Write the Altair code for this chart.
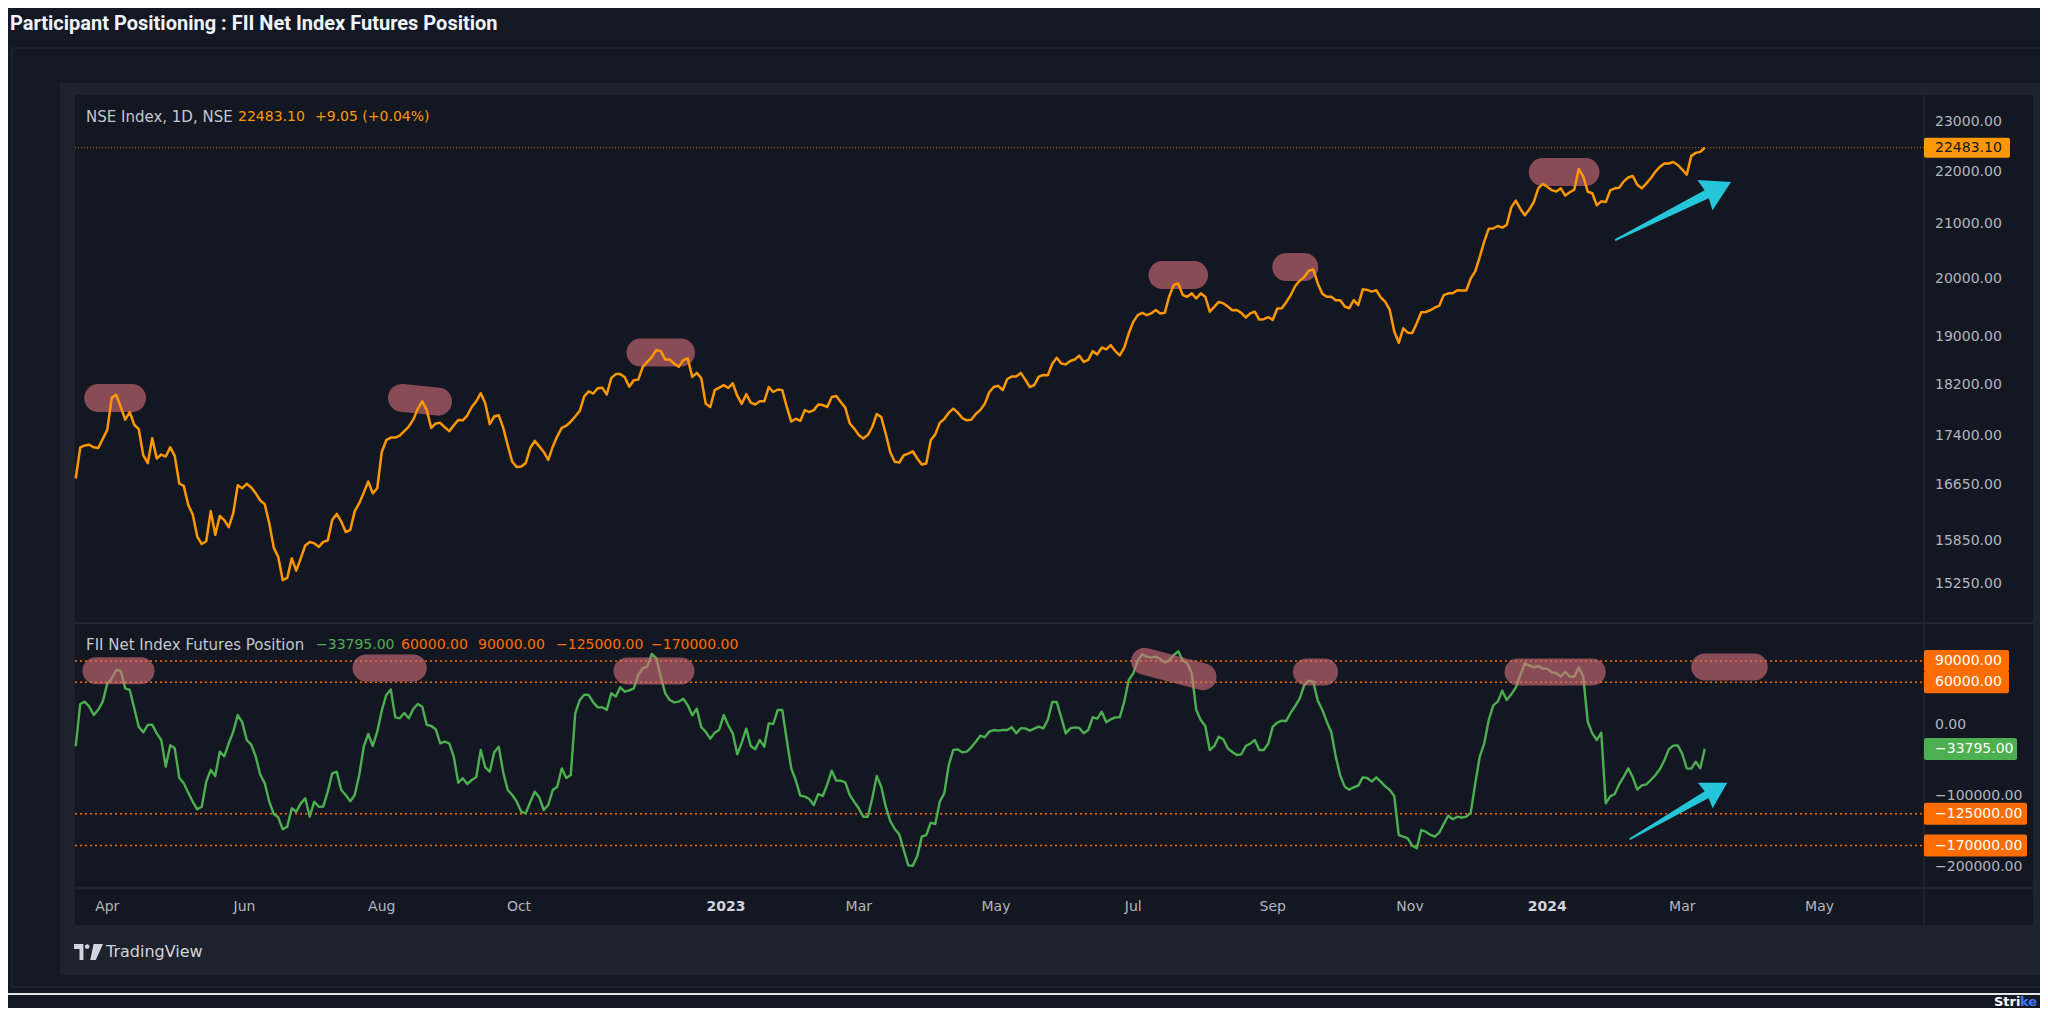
import altair as alt
import pandas as pd

# ------------------------------------------------------------------ data
# readings every 4 days from start_date, plus readings taken halfway between them
start_date = "2022-03-18"
step = "4D"

nse_close = [
    16750, 17250, 17220, 17350, 18000, 17850, 17770, 17500, 16980, 17050,
    17080, 17090, 16640, 16220, 15800, 16270, 16200, 16040, 16650, 16670,
    16530, 16370, 15750, 15300, 15600, 15600, 15830, 15760, 15850, 16230,
    15970, 16270, 16540, 16530, 17150, 17370, 17400, 17540, 17820, 17800,
    17590, 17530, 17560, 17640, 17850, 18070, 17580, 17720, 17250, 16920,
    16980, 17320, 17150, 17230, 17520, 17620, 17790, 18100, 18150, 18050,
    18380, 18330, 18280, 18500, 18660, 18760, 18620, 18500, 18640, 18400,
    17900, 18120, 18200, 18230, 17900, 17920, 17940, 18170, 18130, 17850,
    17665, 17800, 17800, 17880, 18010, 17930, 17590, 17410, 17410, 17740,
    17430, 17000, 17100, 17160, 16960, 17330, 17600, 17760, 17760, 17640,
    17740, 17900, 18170, 18120, 18340, 18400, 18170, 18340, 18360, 18650,
    18540, 18620, 18580, 18760, 18820, 18860, 18690, 19060, 19370, 19370,
    19460, 19410, 19900, 19720, 19750, 19750, 19430, 19600, 19520, 19460,
    19330, 19430, 19300, 19290, 19490, 19720, 19975, 20150, 19925, 19690,
    19630, 19520, 19630, 19820, 19780, 19680, 19460, 18900, 19070, 19230,
    19425, 19500, 19720, 19750, 19800, 20015, 20400, 20920, 20970, 20990,
    21450, 21170, 21420, 21770, 21650, 21685, 21610, 22060, 21620, 21360,
    21420, 21685, 21820, 21925, 21685, 21880, 22100, 22170, 22140, 21950,
    22380, 22483.10,
]
nse_close_mid = [
    17220, 17260, 17210, 17490, 18045, 17650, 17570, 17100, 17360, 17110,
    17220, 16675, 16360, 15905, 15840, 15930, 16140, 16240, 16605, 16615,
    16425, 16095, 15620, 15330, 15430, 15780, 15810, 15830, 16145, 16120,
    16000, 16385, 16705, 16605, 17330, 17370, 17470, 17650, 17940, 17520,
    17600, 17470, 17645, 17715, 17940, 17910, 17700, 17520, 17000, 16930,
    17210, 17235, 17030, 17390, 17555, 17700, 18020, 18065, 18160, 18315,
    18380, 18175, 18290, 18580, 18780, 18620,
    18550, 18610, 18335, 18315, 17850, 18160, 18155, 18030, 18055, 17890,
    17940, 18090, 18120, 17620, 17630, 17770, 17890, 17850, 18025, 17840,
    17510, 17355, 17535, 17690, 17145, 16990, 17125, 17050, 16975, 17420,
    17660, 17825, 17675, 17650, 17800, 18085, 18190, 18300, 18340, 18290,
    18200, 18365, 18550, 18555, 18595, 18685, 18615, 18705, 18790, 18760,
    18820, 19255, 19410, 19400, 19400, 19700, 19925, 19690, 19660, 19690,
    19515, 19575, 19455, 19410, 19400, 19295, 19335, 19485,
    19595, 19880, 20040, 20175, 19745, 19692, 19630, 19490, 19545, 19810,
    19805, 19600, 19090, 19145, 19065, 19420, 19455, 19535, 19750, 19805,
    19800, 20140, 20685, 20925, 20940, 21320, 21295, 21280, 21685, 21715,
    21625, 21545, 21660, 21910, 21590, 21435, 21645, 21695, 21895, 21755,
    21775, 22005, 22170, 22200, 22050, 22320, 22400,
]

fii_net = [
    -30000, 32700, 13900, 32700, 65600, 76000, 49200, -2500, 0, -11900,
    -58800, -33000, -82300, -108100, -115200, -63500, -37700, -25900, 13900, -21300,
    -44700, -82300, -125500, -147100, -117500, -110500, -129300, -115200, -94000, -65900,
    -98700, -98700, -30700, -29700, 20000, 50000, 9250, 9250, 29400, 0,
    -6200, -23600, -44700, -75300, -77600, -35400, -65900, -30700, -91700, -108100,
    -124600, -94000, -119900, -91700, -61200, -70600, 35100, 42100, 24700, 21000,
    39800, 46800, 51500, 79700, 100000, 67900, 35100, 32700, 27600, 22900,
    -9900, -10900, 13900, -11900, -25000, -29700, -21300, 2200, 21000, -21300,
    -78000, -101100, -112800, -100100, -64500, -78600, -98700, -117500, -129300, -72000,
    -115200, -146600, -176200, -198300, -157400, -137700, -108100, -56500, -34400, -37700,
    -23600, -17500, -7200, -7200, -3400, -4800, -8100, -2500, 6900, 32200,
    -11900, -3400, -11900, 10700, 18600, 7800, 10700, 63200, 90500, 96100,
    96100, 88100, 98400, 90500, 72600, 6900, -35400, -16600, -33000, -42400,
    -29700, -21300, -35400, -2500, 5900, 17200, 37400, 62300, 34100, 4500,
    -44700, -87000, -87900, -73900, -79900, -79900, -91700, -155100, -159800, -173800,
    -150400, -157400, -139600, -133000, -130700, -123600, -44700, 6900, 32700, 35100,
    52400, 86700, 81100, 79200, 74000, 67900, 67900, 81100, 4500, -21300,
    -110500, -97300, -72900, -73900, -85100, -77600, -62600, -34400, -28800, -61200,
    -51800, -33795,
]
fii_net_mid = [
    29440, 25680, 21450, 58080, 77300, 51500, 23330, -10470, 340, -21270,
    -28780, -74320, -95450, -118930, -79960, -71980, -44280, -9530, 3610, -27840,
    -70100, -108130, -130200, -143340, -122210, -103430, -108130, -115170, -68220, -91700,
    -107660, -70570, -12820, -9530, 42110, 10660, 16760, 22400, 25680, -1550,
    -25970, -25970, -81370, -83250, -73380, -59770, -38640, -67280, -98740, -122210,
    -108600, -102030, -112830, -87000, -74790, 16290, 42580, 31780, 24740, 44460,
    52910, 48680, 70280, 82020, 94000, 44460,
    31780, 36950, 13470, -2960, -19390, -6720, -610, -41460, -5310, -34420,
    -30660, 1270, 20990, -61180, -99670, -104370, -97330, -83710, -78550, -80900,
    -108600, -129270, -103430, -87000, -135360, -154140, -197800, -185120, -155080, -139580,
    -96390, -35360, -38640, -31600, -15170, -9530, -8120, -7180, -11880, -4840,
    -5310, -4840, 32250, 10660, -4840, -4370, -7180, 8780, 3610, 10660,
    32720, 72630, 99390, 94700, 92820, 90940, 103620, 86720, 20990, -1550,
    -29720, -20330, -38170, -41460, -26440, -35360, -26440, 3140,
    5490, 26620, 56200, 60890, 21450, -10000, -71500, -91230, -85590, -74790,
    -73850, -86530, -100150, -157430, -170100, -148040, -154610, -151790, -127850, -129270,
    -129270, -82310, -25970, 27560, 48220, 43050, 70280, 83900, 82960, 79200,
    73100, 74510, 67940, 67940, -11880, -10940, -100620, -83250, -61180, -91230,
    -83710, -71030, -50380, -29250, -40990, -61650, -61200,
]

nse_last = 22483.10
nse_change = "+9.05 (+0.04%)"
fii_last = -33795.0
fii_levels_top = [90000.0, 60000.0]
fii_levels_bottom = [-125000.0, -170000.0]

nse_ticks = [15250, 15850, 16650, 17400, 18200, 19000, 20000, 21000, 22000, 23000]
fii_ticks = [-200000, -100000, 0]
month_ticks = ["2022-04-01", "2022-06-01", "2022-08-01", "2022-10-01", "2023-01-01", "2023-03-01",
               "2023-05-01", "2023-07-01", "2023-09-01", "2023-11-01", "2024-01-01", "2024-03-01",
               "2024-05-01"]

# hand-drawn highlight marks (start/end date and level)
nse_pill_from = ["2022-03-28", "2022-08-10", "2022-11-24", "2023-07-14", "2023-09-07", "2023-12-30"]
nse_pill_to = ["2022-04-12", "2022-08-26", "2022-12-12", "2023-07-28", "2023-09-15", "2024-01-18"]
nse_pill_v_from = [17992, 17995, 18735, 20073, 20218, 22000]
nse_pill_v_to = [17992, 17935, 18735, 20073, 20218, 22000]

fii_pill_from = ["2022-03-27", "2022-07-25", "2022-11-18", "2023-07-06", "2023-09-16", "2023-12-19", "2024-03-11"]
fii_pill_to = ["2022-04-16", "2022-08-15", "2022-12-12", "2023-08-01", "2023-09-24", "2024-01-21", "2024-04-02"]
fii_pill_v_from = [76340, 80140, 75920, 89580, 74510, 74510, 81550]
fii_pill_v_to = [76340, 80140, 75920, 67890, 74510, 74510, 81550]

arrow_nse_date, arrow_nse_value = "2024-02-25T22:00:00", 21250
arrow_fii_date, arrow_fii_value = "2024-02-28T07:00:00", -121270

# ------------------------------------------------------------------ frames
start = pd.Timestamp(start_date)


def series(on_grid, mid):
    a = pd.DataFrame({"date": pd.date_range(start, periods=len(on_grid), freq=step), "value": on_grid})
    b = pd.DataFrame({"date": pd.date_range(start + pd.Timedelta(days=2), periods=len(mid), freq=step),
                      "value": mid})
    return pd.concat([a, b]).sort_values("date").reset_index(drop=True)


nse_df = series(nse_close, nse_close_mid)
fii_df = series(fii_net, fii_net_mid)


def fmt(v):
    return f"{v:.2f}".replace("-", "\u2212")


def pills(f, t, vf, vt):
    rows = []
    for i, (a, b, c, d) in enumerate(zip(f, t, vf, vt)):
        rows.append({"pill": i, "date": pd.Timestamp(a), "v": c})
        rows.append({"pill": i, "date": pd.Timestamp(b), "v": d})
    return pd.DataFrame(rows)


nse_pills = pills(nse_pill_from, nse_pill_to, nse_pill_v_from, nse_pill_v_to)
fii_pills = pills(fii_pill_from, fii_pill_to, fii_pill_v_from, fii_pill_v_to)
nse_last_df = pd.DataFrame({"v": [nse_last], "label": [fmt(nse_last)]})
fii_top_df = pd.DataFrame({"v": fii_levels_top, "label": [fmt(v) for v in fii_levels_top]})
fii_bot_df = pd.DataFrame({"v": fii_levels_bottom, "label": [fmt(v) for v in fii_levels_bottom]})
fii_all_levels = pd.DataFrame({"v": fii_levels_top + fii_levels_bottom})
fii_last_df = pd.DataFrame({"v": [fii_last], "label": [fmt(fii_last)]})
arrow_nse_df = pd.DataFrame({"date": [pd.Timestamp(arrow_nse_date)], "v": [arrow_nse_value]})
arrow_fii_df = pd.DataFrame({"date": [pd.Timestamp(arrow_fii_date)], "v": [arrow_fii_value]})

tick_dates = pd.to_datetime(month_ticks)
x_ticks_df = pd.DataFrame({
    "date": tick_dates,
    "label": [str(d.year) if d.month == 1 else d.strftime("%b") for d in tick_dates],
    "year": [d.month == 1 for d in tick_dates],
})
nse_ticks_df = pd.DataFrame({"v": nse_ticks, "label": [fmt(v) for v in nse_ticks]})
fii_ticks_df = pd.DataFrame({"v": fii_ticks, "label": [fmt(v) for v in fii_ticks]})
one = pd.DataFrame({"k": [0]})

# ------------------------------------------------------------------ layout (page px)
PX0, PY0 = 75, 95
W, H = 1849, 793


def px(x):
    return x - PX0


def py(y):
    return y - PY0


FONT = "DejaVu Sans"
GRAY = "#b2b5be"
ORANGE = "#ff9800"
RED_OR = "#ff6d00"
GREEN = "#4caf50"
CYAN = "#26c6da"
PILL = "#d96f7c"
DARK = "#131722"
PANEL = "#1e222d"

x_scale = alt.Scale(domain=[alt.DateTime(year=2022, month=3, date=17, hours=16),
                            alt.DateTime(year=2024, month=6, date=16, hours=10, minutes=30)],
                    nice=False)
up_scale = alt.Scale(type="log", domain=[14728, 23563], range=[py(623), py(95)], nice=False)
low_scale = alt.Scale(domain=[-229728, 143525], range=[py(888), py(623)], nice=False, zero=False)

X = alt.X("date:T", scale=x_scale, axis=None)
Yu = alt.Y("v:Q", scale=up_scale, axis=None)
Yl = alt.Y("v:Q", scale=low_scale, axis=None)


def rect(x1, y1, x2, y2, **kw):
    return alt.Chart(one).mark_rect(**kw).encode(
        x=alt.value(px(x1)), x2=alt.value(px(x2)), y=alt.value(py(y1)), y2=alt.value(py(y2)))


def rule(x1, y1, x2, y2, **kw):
    return alt.Chart(one).mark_rule(**kw).encode(
        x=alt.value(px(x1)), x2=alt.value(px(x2)), y=alt.value(py(y1)), y2=alt.value(py(y2)))


def text(x, y, s, **kw):
    kw.setdefault("font", FONT)
    return alt.Chart(one).mark_text(text=s, align="left", baseline="middle", **kw).encode(
        x=alt.value(px(x)), y=alt.value(py(y)))


ARROW = "M -1 -0.015 L 0.58 -0.07 L 0.55 -0.26 L 1 0 L 0.55 0.26 L 0.58 0.07 L -1 0.015 Z"
TV_LOGO = ("M -1 -0.55 L -0.35 -0.55 L -0.35 0.55 L -0.62 0.55 L -0.62 -0.2 L -1 -0.2 Z "
           "M -0.25 -0.38 A 0.16 0.16 0 1 0 0.07 -0.38 A 0.16 0.16 0 1 0 -0.25 -0.38 Z "
           "M 0.35 -0.55 L 1 -0.55 L 0.5 0.55 L 0.12 0.55 Z")

# ------------------------------------------------------------------ background
background = [
    rect(12, 48, 2060, 987, fill="transparent", stroke="#262a35", strokeWidth=1),
    rect(60, 83, 2045, 975, fill=PANEL),
    rect(75, 95, 2033, 925, fill=DARK),
    rule(75, 623, 2033, 623, color="#2a2e39", strokeWidth=1.5),
    rule(75, 888, 2033, 888, color="#2a2e39", strokeWidth=1),
    rule(1924, 95, 1924, 925, color="#2a2e39", strokeWidth=1),
]

# ------------------------------------------------------------------ time scale labels
x_labels = alt.layer(
    alt.Chart(x_ticks_df).transform_filter("!datum.year").mark_text(
        align="center", baseline="middle", font=FONT, fontSize=14, color=GRAY).encode(
        x=X, y=alt.value(py(907)), text="label:N"),
    alt.Chart(x_ticks_df).transform_filter("datum.year").mark_text(
        align="center", baseline="middle", font=FONT, fontSize=14, fontWeight="bold",
        color="#d1d4dc").encode(x=X, y=alt.value(py(907)), text="label:N"),
)

# ------------------------------------------------------------------ upper pane
upper = alt.layer(
    alt.Chart(nse_pills).mark_line(strokeWidth=28, strokeCap="round", color=PILL, opacity=0.6).encode(
        x=X, y=Yu, detail="pill:N"),
    alt.Chart(nse_last_df).mark_rule(color=ORANGE, strokeDash=[1, 2], strokeWidth=1, opacity=0.75).encode(
        x=alt.value(0), x2=alt.value(W), y=Yu),
    alt.Chart(nse_df).mark_line(color=ORANGE, strokeWidth=2.5, strokeJoin="round").encode(
        x=X, y=alt.Y("value:Q", scale=up_scale, axis=None)),
    alt.Chart(arrow_nse_df).mark_point(shape=ARROW, size=16822, angle=333.4, filled=True, color=CYAN,
                                       opacity=1, strokeWidth=0).encode(x=X, y=Yu),
    alt.Chart(nse_ticks_df).mark_text(align="left", baseline="middle", font=FONT, fontSize=14,
                                      color=GRAY).encode(x=alt.value(px(1935)), y=Yu, text="label:N"),
    alt.Chart(nse_last_df).mark_rect(color=ORANGE, cornerRadius=2, yOffset=-10, y2Offset=10).encode(
        x=alt.value(px(1924)), x2=alt.value(px(2010)), y=Yu, y2="v:Q"),
    alt.Chart(nse_last_df).mark_text(align="left", baseline="middle", font=FONT, fontSize=14,
                                     color=DARK).encode(x=alt.value(px(1935)), y=Yu, text="label:N"),
)

# ------------------------------------------------------------------ lower pane
lower = alt.layer(
    alt.Chart(fii_all_levels).mark_rule(color=RED_OR, strokeDash=[2, 3], strokeWidth=1.5).encode(
        x=alt.value(0), x2=alt.value(W), y=Yl),
    alt.Chart(fii_df).mark_line(color=GREEN, strokeWidth=2.4, strokeJoin="round").encode(
        x=X, y=alt.Y("value:Q", scale=low_scale, axis=None)),
    alt.Chart(fii_pills).mark_line(strokeWidth=27, strokeCap="round", color=PILL, opacity=0.6).encode(
        x=X, y=Yl, detail="pill:N"),
    alt.Chart(arrow_fii_df).mark_point(shape=ARROW, size=12724, angle=329.9, filled=True, color=CYAN,
                                       opacity=1, strokeWidth=0).encode(x=X, y=Yl),
    alt.Chart(fii_ticks_df).mark_text(align="left", baseline="middle", font=FONT, fontSize=14,
                                      color=GRAY).encode(x=alt.value(px(1935)), y=Yl, text="label:N"),
    alt.Chart(fii_top_df).mark_rect(color=RED_OR, cornerRadius=2, yOffset=-11, y2Offset=11).encode(
        x=alt.value(px(1924)), x2=alt.value(px(2009)), y=Yl, y2="v:Q"),
    alt.Chart(fii_bot_df).mark_rect(color=RED_OR, cornerRadius=2, yOffset=-11, y2Offset=11).encode(
        x=alt.value(px(1924)), x2=alt.value(px(2027)), y=Yl, y2="v:Q"),
    alt.Chart(fii_last_df).mark_rect(color=GREEN, cornerRadius=2, yOffset=-11, y2Offset=11).encode(
        x=alt.value(px(1924)), x2=alt.value(px(2017)), y=Yl, y2="v:Q"),
    alt.Chart(pd.concat([fii_top_df, fii_bot_df, fii_last_df])).mark_text(
        align="left", baseline="middle", font=FONT, fontSize=14, color="#ffffff").encode(
        x=alt.value(px(1935)), y=Yl, text="label:N"),
)

# ------------------------------------------------------------------ texts
texts = [
    text(10, 23.5, "Participant Positioning : FII Net Index Futures Position",
         font="Liberation Sans Narrow, Roboto", fontSize=20, fontWeight="bold", color="#f0f3fa"),
    text(86, 117, "NSE Index, 1D, NSE", fontSize=15, color="#c3c6ce"),
    text(238, 117, fmt(nse_last), fontSize=14, color=ORANGE),
    text(315, 117, nse_change, fontSize=14, color=ORANGE),
    text(86, 645, "FII Net Index Futures Position", fontSize=15, color="#c3c6ce"),
    text(316, 645, fmt(fii_last), fontSize=14, color=GREEN),
    text(401, 645, fmt(fii_levels_top[1]), fontSize=14, color=RED_OR),
    text(478, 645, fmt(fii_levels_top[0]), fontSize=14, color=RED_OR),
    text(556, 645, fmt(fii_levels_bottom[0]), fontSize=14, color=RED_OR),
    text(651, 645, fmt(fii_levels_bottom[1]), fontSize=14, color=RED_OR),
    alt.Chart(one).mark_point(shape=TV_LOGO, size=841, filled=True, color="#d1d4dc", opacity=1,
                              strokeWidth=0).encode(x=alt.value(px(88.5)), y=alt.value(py(952))),
    text(106, 952, "TradingView", fontSize=16, color="#d1d4dc"),
    rule(8, 994, 2040, 994, color="#e6e6e6", strokeWidth=2),
    text(1994, 1002, "Stri", fontSize=13, fontWeight="bold", color="#ffffff"),
    text(2020, 1002, "ke", fontSize=13, fontWeight="bold", color="#3d7bff"),
]

chart = alt.layer(*background, x_labels, upper, lower, *texts).resolve_scale(y="independent").properties(
    width=W, height=H,
    padding={"left": 67, "top": 87, "right": 116, "bottom": 120},
    autosize=alt.AutoSizeParams(type="none"),
    background="#141823",
).configure_view(stroke=None)

chart.save("out.html", embed_options={"renderer": "svg", "actions": False})
